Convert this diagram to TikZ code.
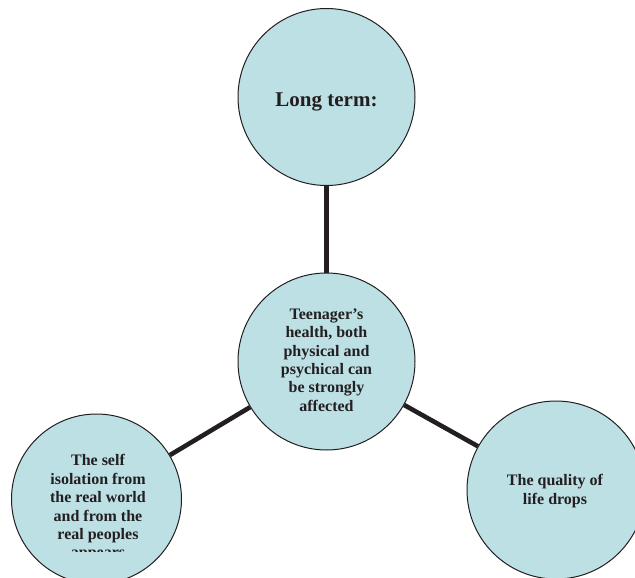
\documentclass[tikz,border=0pt]{standalone}
\usepackage{fontspec}
\setmainfont{Liberation Serif}
\definecolor{bubble}{HTML}{BDE0E5}
\definecolor{ink}{HTML}{231F20}
\begin{document}
\begin{tikzpicture}[x=1pt,y=-1pt,
  bub/.style={circle,draw=ink,line width=1pt,fill=bubble,inner sep=0pt},
  conn/.style={draw=ink,line width=4.6pt},
  txt/.style={align=center,text=ink,font=\bfseries\fontsize{16}{18.4}\selectfont,inner sep=0pt}]
\useasboundingbox (0,0) rectangle (635,578);
\node[bub,minimum size=177pt] (top) at (326.5,97) {};
\node[bub,minimum size=177pt] (mid) at (326.5,361.5) {};
\node[bub,minimum size=170pt] (bl) at (96.5,499) {};
\node[bub,minimum size=178pt] (br) at (556,490) {};
\draw[conn] (top) -- (mid);
\draw[conn] (mid) -- (bl);
\draw[conn] (mid) -- (br);
\node[txt,font=\bfseries\fontsize{21}{24}\selectfont] (toptxt) at (326.5,102) {Long term:};
\node[txt] (midtxt) at (326.5,360) {Teenager’s\\health, both\\physical and\\psychical can\\be strongly\\affected};
\node[txt] (brtxt) at (555,491) {The quality of\\life drops};
\begin{scope}
\clip (0,0) rectangle (635,551.5);
\node[txt] (bltxt) at (98,508) {The self\\isolation from\\the real world\\and from the\\real peoples\\appears};
\end{scope}
\end{tikzpicture}
\end{document}
